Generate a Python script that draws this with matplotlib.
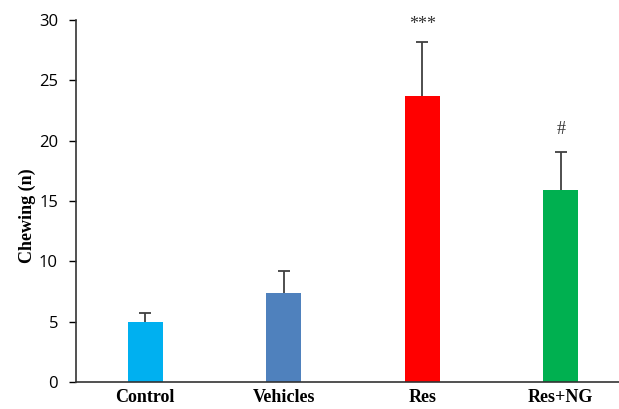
import matplotlib
matplotlib.use("Agg")
import matplotlib.pyplot as plt

categories = ["Control", "Vehicles", "Res", "Res+NG"]
means = [5.0, 7.4, 23.7, 15.9]
errors = [0.75, 1.8, 4.5, 3.15]
colors = ["#00B0F0", "#4F81BD", "#FF0000", "#00B050"]
annotations = ["", "", "***", "#"]
yticks = [0, 5, 10, 15, 20, 25, 30]

fig = plt.figure(figsize=(6.19, 4.09), dpi=100)
ax = fig.add_axes([76 / 619, 27 / 409, (630 - 76) / 619, (382 - 20) / 409])

x = list(range(len(categories)))
ax.bar(x, means, width=0.255, color=colors, zorder=2)
_, caps, _ = ax.errorbar(x, means, yerr=[[0] * len(errors), errors], fmt="none",
                         ecolor="#404040", elinewidth=1.3, capsize=4,
                         capthick=1.3, zorder=3)
# only the upper whisker carries a cap
caps[0].set_visible(False)

# asterisks sit high in the glyph box, so they need a smaller lift
lift = {"***": 1.4, "#": 1.9}
for xi, m, e, a in zip(x, means, errors, annotations):
    if a:
        ax.text(xi, m + e + lift[a], a, ha="center", va="center",
                fontsize=13, color="#333333", family="Liberation Serif")

ax.set_xlim(-0.5, 3.5)
ax.set_ylim(0, 30)
ax.set_yticks(yticks)
ax.set_xticks(x)
ax.set_xticklabels(categories, family="Liberation Serif", fontweight="bold", fontsize=13)
for lbl in ax.get_yticklabels():
    lbl.set_family("Open Sans")
    lbl.set_fontsize(12)
ax.tick_params(axis="x", length=0, pad=5)
ax.tick_params(axis="y", length=5, width=1, direction="out", pad=8)
ax.set_ylabel("Chewing (n)", family="Liberation Serif", fontweight="bold",
              fontsize=13)
ax.yaxis.set_label_coords(-0.073, 0.46)

for side in ["top", "right"]:
    ax.spines[side].set_visible(False)
for side in ["left", "bottom"]:
    ax.spines[side].set_linewidth(1.2)
    ax.spines[side].set_color("#333333")

fig.savefig("out.png", dpi=100)
